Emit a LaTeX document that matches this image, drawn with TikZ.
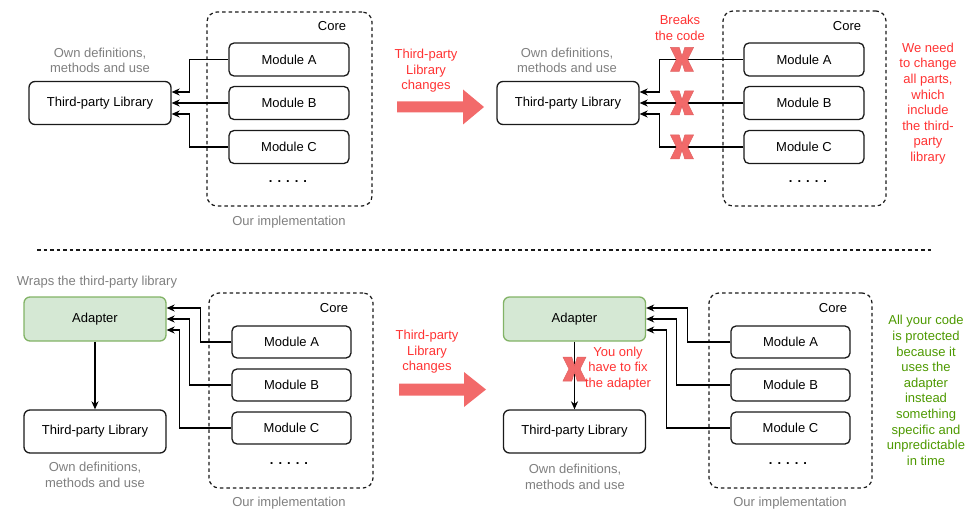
\documentclass[tikz,border=0pt]{standalone}
\usepackage{fontspec}
\setmainfont{Liberation Sans}
\usetikzlibrary{arrows.meta}
\definecolor{txtgray}{HTML}{7F7F7F}
\definecolor{txtred}{HTML}{FF3333}
\definecolor{txtgreen}{HTML}{4D9900}
\definecolor{bigred}{HTML}{F26A6A}
\definecolor{adfill}{HTML}{D5E8D4}
\definecolor{adline}{HTML}{82B366}
\definecolor{boxline}{HTML}{1A1A1A}
\newcommand{\fivedots}{{\bfseries .\hspace{5pt}.\hspace{5pt}.\hspace{5pt}.\hspace{5pt}.}}
\begin{document}
\begin{tikzpicture}[x=1pt,y=-1pt,
  every node/.style={font=\fontsize{13}{15.6}\selectfont, inner sep=0pt, align=center},
  modbox/.style={draw=boxline, line width=1.3pt, rounded corners=5pt, minimum width=120pt, minimum height=33pt, fill=white},
  libbox/.style={draw=boxline, line width=1.3pt, rounded corners=6pt, minimum width=142pt, minimum height=43pt, fill=white},
  adbox/.style={draw=adline, fill=adfill, line width=1.3pt, rounded corners=6pt, minimum width=142pt, minimum height=44pt},
  corebox/.style={draw=boxline, line width=1.2pt, dash pattern=on 3.5pt off 3pt, rounded corners=10pt},
  graytxt/.style={text=txtgray},
  redtxt/.style={text=txtred},
  greentxt/.style={text=txtgreen},
  conn/.style={draw=black, line width=1.2pt, -{Stealth[length=8pt,width=7pt,inset=2.5pt]}},
  xmark/.pic={\fill[bigred, draw=bigred!92!black, line width=0.5pt] (-11.5,-12) -- (-2.8,-12) -- (0,-3.2) -- (2.8,-12) -- (11.5,-12) -- (5.6,0) -- (11.5,12) -- (2.8,12) -- (0,3.2) -- (-2.8,12) -- (-11.5,12) -- (-5.6,0) -- cycle;},
]
\useasboundingbox (0,0) rectangle (980,532);

% ===================== TOP LEFT =====================
\node[corebox, minimum width=165pt, minimum height=194pt] (core1) at (289.5,109) {};
\node (corelbl1) at (332,26) {Core};
\node[modbox] (mA1) at (289,59.5) {Module A};
\node[modbox] (mB1) at (289,103) {Module B};
\node[modbox] (mC1) at (289,147) {Module C};
\node (dots1) at (288,182) {\fivedots};
\node[graytxt] (impl1) at (289,222) {Our implementation};
\node[libbox] (lib1) at (100,103) {Third-party Library};
\node[graytxt] (own1) at (100,60.5) {Own definitions,\\methods and use};
\draw[conn] (mA1.west) -- ++(-39,0) |- ([yshift=11pt]lib1.east);
\draw[conn] (mB1.west) -- (lib1.east);
\draw[conn] (mC1.west) -- ++(-39,0) |- ([yshift=-11pt]lib1.east);

% ===================== TOP MIDDLE ARROW =====================
\node[redtxt] (chg1) at (426,71) {Third-party\\Library\\changes};
\fill[bigred] (397,101.5) -- (463,101.5) -- (463,89.5) -- (484,107) -- (463,124.5) -- (463,112.5) -- (397,112.5) -- cycle;

% ===================== TOP RIGHT =====================
\node[corebox, minimum width=163pt, minimum height=195pt] (core2) at (804.5,108.5) {};
\node (corelbl2) at (847,26) {Core};
\node[modbox] (mA2) at (804,59.5) {Module A};
\node[modbox] (mB2) at (804,103) {Module B};
\node[modbox] (mC2) at (804,147) {Module C};
\node (dots2) at (808,182) {\fivedots};
\node[libbox] (lib2) at (568,103) {Third-party Library};
\node[graytxt] (own2) at (567,60.5) {Own definitions,\\methods and use};
\draw[conn] (mA2.west) -- ++(-84,0) |- ([yshift=11pt]lib2.east);
\draw[conn] (mB2.west) -- (lib2.east);
\draw[conn] (mC2.west) -- ++(-84,0) |- ([yshift=-11pt]lib2.east);
\pic at (682,59.5) {xmark};
\pic at (682,103) {xmark};
\pic at (682,147) {xmark};
\node[redtxt] (brk) at (680,28) {Breaks\\the code};
\node[redtxt] (need) at (928,103.5) {We need\\to change\\all parts,\\which\\include\\the third-\\party\\library};

% ===================== SEPARATOR =====================
\coordinate (sepL) at (37,250);
\coordinate (sepR) at (933,250);
\draw[boxline, line width=1.2pt, dash pattern=on 3.5pt off 3pt] (sepL) -- (sepR);

% ===================== BOTTOM LEFT =====================
\node[graytxt] (wrap) at (97,282) {Wraps the third-party library};
\node[adbox] (ad3) at (95,319) {Adapter};
\node[libbox] (lib3) at (95,431.5) {Third-party Library};
\node[graytxt] (own3) at (95,475) {Own definitions,\\methods and use};
\draw[conn] (ad3.south) -- (lib3.north);
\node[corebox, minimum width=164pt, minimum height=195pt] (core3) at (291,390.5) {};
\node (corelbl3) at (334,308) {Core};
\node[modbox, minimum width=119pt, minimum height=32pt] (mA3) at (291.5,342) {Module A};
\node[modbox, minimum width=119pt, minimum height=32pt] (mB3) at (291.5,385) {Module B};
\node[modbox, minimum width=119pt, minimum height=32pt] (mC3) at (291.5,428) {Module C};
\node (dots3) at (289,464) {\fivedots};
\node[graytxt] (impl3) at (289,503) {Our implementation};
\draw[conn] (mA3.west) -- ++(-31,0) |- ([yshift=11pt]ad3.east);
\draw[conn] (mB3.west) -- ++(-42,0) |- (ad3.east);
\draw[conn] (mC3.west) -- ++(-52,0) |- ([yshift=-11pt]ad3.east);

% ===================== BOTTOM MIDDLE ARROW =====================
\node[redtxt] (chg2) at (427,352) {Third-party\\Library\\changes};
\fill[bigred] (399,383.5) -- (464,383.5) -- (464,372) -- (486,389.5) -- (464,407) -- (464,395.5) -- (399,395.5) -- cycle;

% ===================== BOTTOM RIGHT =====================
\node[adbox] (ad4) at (574.5,319) {Adapter};
\node[libbox] (lib4) at (574.5,431.5) {Third-party Library};
\node[graytxt] (own4) at (575,477) {Own definitions,\\methods and use};
\draw[conn] (ad4.south) -- (lib4.north);
\pic at (574.5,369) {xmark};
\node[redtxt] (fix) at (618,368.5) {You only\\have to fix\\the adapter};
\node[corebox, minimum width=163pt, minimum height=195pt] (core4) at (790.5,390.5) {};
\node (corelbl4) at (833,308) {Core};
\node[modbox, minimum width=119pt, minimum height=32pt] (mA4) at (790.5,342) {Module A};
\node[modbox, minimum width=119pt, minimum height=32pt] (mB4) at (790.5,385) {Module B};
\node[modbox, minimum width=119pt, minimum height=32pt] (mC4) at (790.5,428) {Module C};
\node (dots4) at (788,464) {\fivedots};
\node[graytxt] (impl4) at (790,503) {Our implementation};
\draw[conn] (mA4.west) -- ++(-43,0) |- ([yshift=11pt]ad4.east);
\draw[conn] (mB4.west) -- ++(-54,0) |- (ad4.east);
\draw[conn] (mC4.west) -- ++(-64,0) |- ([yshift=-11pt]ad4.east);
\node[greentxt] (prot) at (926,390.5) {All your code\\is protected\\because it\\uses the\\adapter\\instead\\something\\specific and\\unpredictable\\in time};
\end{tikzpicture}
\end{document}
